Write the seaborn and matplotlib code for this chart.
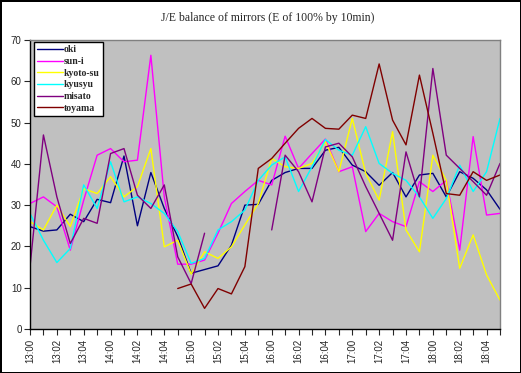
import numpy as np
import pandas as pd
import matplotlib
matplotlib.use("Agg")
import matplotlib.pyplot as plt
import seaborn as sns

nan = np.nan

hours = [13, 14, 15, 16, 17, 18]
slots = [0, 1, 2, 3, 4, 5]
time_labels = [f"{h}:0{s}" for h in hours for s in slots]

oki = [24.8, 23.7, 24.0, 27.8, 26.0, 31.4, 30.6, 41.9, 25.0, 37.9, 29.2, 22.4,
       13.5, 14.4, 15.3, 20.3, 30.0, 30.2, 36.0, 37.9, 38.9, 38.9, 43.3, 44.0,
       39.7, 38.1, 34.8, 37.9, 32.0, 37.3, 37.7, 32.0, 38.1, 36.5, 33.7, 29.0]
sun_i = [30.4, 32.0, 29.6, 19.1, 31.2, 42.1, 43.7, 40.5, 40.9, 66.3, 32.0, 15.7,
         15.7, 16.7, 23.2, 30.4, 33.3, 36.0, 34.9, 46.7, 38.9, 42.5, 46.0, 38.1,
         39.3, 23.6, 28.0, 26.0, 24.8, 35.7, 33.3, 36.0, 19.1, 46.6, 27.6, 28.0]
kyoto_su = [26.0, 24.0, 30.0, 24.8, 34.0, 32.8, 36.9, 32.0, 34.5, 43.7, 19.9, 21.5,
            13.3, 18.7, 17.1, 19.9, 25.2, 30.4, 41.3, 39.3, 38.9, 40.1, 45.4, 38.1,
            51.0, 37.7, 31.2, 47.8, 24.0, 18.7, 42.1, 36.0, 14.7, 22.8, 13.1, 7.0]
kyusyu = [28.0, 21.5, 16.1, 19.5, 34.9, 29.2, 40.5, 30.8, 32.0, 30.4, 28.0, 23.6,
          15.9, 17.1, 24.0, 26.0, 28.8, 36.0, 39.7, 41.7, 33.3, 39.3, 45.9, 43.3,
          42.1, 49.0, 40.1, 37.7, 36.0, 32.0, 26.8, 31.6, 39.7, 33.3, 38.1, 51.0]
misato = [15.1, 47.0, 32.0, 20.7, 26.8, 25.6, 42.5, 43.7, 32.4, 29.2, 34.9, 17.5,
          11.0, 23.2, nan, nan, nan, nan, 24.0, 42.1, 38.1, 30.8, 44.1, 45.0,
          41.7, 34.5, 28.0, 21.5, 42.9, 32.0, 63.1, 42.1, 38.9, 35.7, 32.4, 40.1]
toyama = [nan, nan, nan, nan, nan, nan, nan, nan, nan, nan, nan, 9.8,
          10.9, 5.0, 9.8, 8.5, 15.1, 38.9, 41.3, 45.0, 48.6, 51.0, 48.6, 48.4,
          51.8, 51.0, 64.2, 50.6, 44.6, 61.5, 47.4, 32.8, 32.4, 38.1, 36.0, 37.3]

series_names = ["oki", "sun-i", "kyoto-su", "kyusyu", "misato", "toyama"]
series_values = [oki, sun_i, kyoto_su, kyusyu, misato, toyama]
colors = ["#000080", "#FF00FF", "#FFFF00", "#00FFFF", "#800080", "#800000"]

rows = []
for name, vals in zip(series_names, series_values):
    seg = 0
    prev_nan = True
    for i, v in enumerate(vals):
        if np.isnan(v):
            prev_nan = True
            continue
        if prev_nan:
            seg += 1
            prev_nan = False
        rows.append({"idx": i, "value": v, "series": name, "seg": f"{name}_{seg}"})
df = pd.DataFrame(rows)

sns.set_style("white")
plt.rcParams["font.family"] = ["Liberation Sans", "DejaVu Sans"]

fig = plt.figure(figsize=(5.21, 3.73), dpi=100, facecolor="white",
                 edgecolor="black", linewidth=1.0)
ax = fig.add_axes([30 / 521, 44 / 373, 470 / 521, 289 / 373])
ax.set_facecolor("#C0C0C0")

sns.lineplot(data=df, x="idx", y="value", hue="series", units="seg",
             estimator=None, sort=False, palette=dict(zip(series_names, colors)),
             hue_order=series_names, linewidth=1.0, ax=ax, legend=False)

for name, c in zip(series_names, colors):
    ax.plot([], [], color=c, linewidth=1.0, label=name)

ax.set_xlim(0, len(time_labels) - 1)
ax.set_ylim(0, 70)
ax.set_yticks(range(0, 71, 10))
ax.set_xticks(range(len(time_labels)))
ax.set_xticklabels([t if i % 2 == 0 else "" for i, t in enumerate(time_labels)],
                   rotation=90, fontsize=7)
ax.tick_params(axis="y", labelsize=7, length=4, width=0.8, direction="out", left=True, pad=2)
ax.tick_params(axis="x", length=4, width=0.8, direction="out", bottom=True, pad=3)
ax.set_xlabel("")
ax.set_ylabel("")

for side in ["left", "bottom"]:
    ax.spines[side].set_color("black")
    ax.spines[side].set_linewidth(1.0)
for side in ["top", "right"]:
    ax.spines[side].set_color("#808080")
    ax.spines[side].set_linewidth(1.0)

leg = ax.legend(loc="upper left", bbox_to_anchor=(4 / 470, 1 - 2 / 289),
                borderaxespad=0, frameon=True, fancybox=False,
                prop={"family": "Liberation Serif", "size": 7, "weight": "bold"},
                handlelength=2.6, handletextpad=0.1, labelspacing=0.27,
                borderpad=0.35)
leg.get_frame().set_edgecolor("black")
leg.get_frame().set_linewidth(1.0)
leg.get_frame().set_alpha(1)

fig.text(268 / 521, 1 - 18 / 373, "J/E balance of mirrors (E of 100% by 10min)",
         ha="center", va="center", fontsize=8.5, family="Liberation Serif")

fig.savefig("out.png", dpi=100, facecolor="white", edgecolor=fig.get_edgecolor())
